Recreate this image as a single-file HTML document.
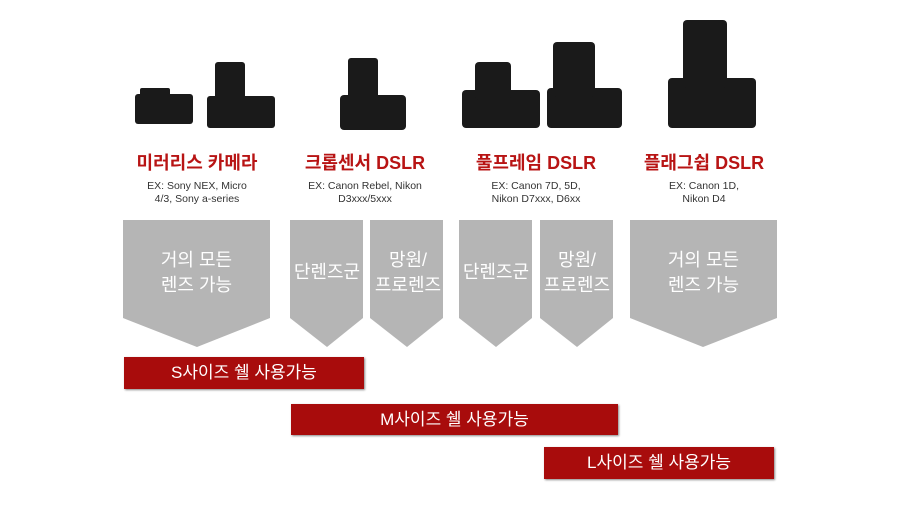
<!DOCTYPE html>
<html><head><meta charset="utf-8"><style>
body{margin:0;width:900px;height:506px;background:#fff;position:relative;overflow:hidden;font-family:"Liberation Sans","Noto Sans CJK KR",sans-serif}
.t{position:absolute;color:#b81414;font-size:18px;font-weight:bold;text-align:center;width:180px}
.s{position:absolute;color:#333;font-size:10.5px;text-align:center;width:160px;line-height:13px}
.bar{position:absolute;background:#a80c0c;color:#fff;font-size:17px;text-align:center;box-shadow:1px 1px 2px #888}
.lb{position:absolute;color:#fff;font-size:18px;text-align:center;line-height:25px}
</style></head><body>
<svg width="900" height="506" style="position:absolute;left:0;top:0">
<g fill="#1a1a1a">
<rect x="135" y="94" width="58" height="30" rx="3"/><rect x="140" y="88" width="30" height="12" rx="2"/>
<rect x="207" y="96" width="68" height="32" rx="3"/><rect x="215" y="62" width="30" height="40" rx="3"/>
<rect x="340" y="95" width="66" height="35" rx="4"/><rect x="348" y="58" width="30" height="40" rx="3"/>
<rect x="462" y="90" width="78" height="38" rx="4"/><rect x="475" y="62" width="36" height="38" rx="4"/>
<rect x="547" y="88" width="75" height="40" rx="4"/><rect x="553" y="42" width="42" height="55" rx="4"/>
<rect x="668" y="78" width="88" height="50" rx="4"/><rect x="683" y="20" width="44" height="68" rx="4"/>
</g>
<g fill="#b5b5b5">
<polygon points="123,220 270,220 270,318 197,347 123,318"/>
<polygon points="290,220 363,220 363,318 327,347 290,318"/>
<polygon points="370,220 443,220 443,318 407,347 370,318"/>
<polygon points="459,220 532,220 532,318 496,347 459,318"/>
<polygon points="540,220 613,220 613,318 577,347 540,318"/>
<polygon points="630,220 777,220 777,318 703,347 630,318"/>
</g></svg>
<div class="t" style="left:107px;top:149px">미러리스 카메라</div>
<div class="t" style="left:275px;top:149px">크롭센서 DSLR</div>
<div class="t" style="left:446px;top:149px">풀프레임 DSLR</div>
<div class="t" style="left:614px;top:149px">플래그쉽 DSLR</div>
<div class="s" style="left:117px;top:180px">EX: Sony NEX, Micro<br>4/3, Sony a-series</div>
<div class="s" style="left:285px;top:180px">EX: Canon Rebel, Nikon<br>D3xxx/5xxx</div>
<div class="s" style="left:456px;top:180px">EX: Canon 7D, 5D,<br>Nikon D7xxx, D6xx</div>
<div class="s" style="left:624px;top:180px">EX: Canon 1D,<br>Nikon D4</div>
<div class="lb" style="left:123px;top:248px;width:147px">거의 모든<br>렌즈 가능</div>
<div class="lb" style="left:286px;top:260px;width:82px">단렌즈군</div>
<div class="lb" style="left:368px;top:248px;width:80px">망원/<br>프로렌즈</div>
<div class="lb" style="left:455px;top:260px;width:82px">단렌즈군</div>
<div class="lb" style="left:537px;top:248px;width:80px">망원/<br>프로렌즈</div>
<div class="lb" style="left:630px;top:248px;width:147px">거의 모든<br>렌즈 가능</div>
<div class="bar" style="left:124px;top:357px;width:240px;height:32px;line-height:32px">S사이즈 쉘 사용가능</div>
<div class="bar" style="left:291px;top:404px;width:327px;height:31px;line-height:31px">M사이즈 쉘 사용가능</div>
<div class="bar" style="left:544px;top:447px;width:230px;height:32px;line-height:32px">L사이즈 쉘 사용가능</div>
</body></html>
